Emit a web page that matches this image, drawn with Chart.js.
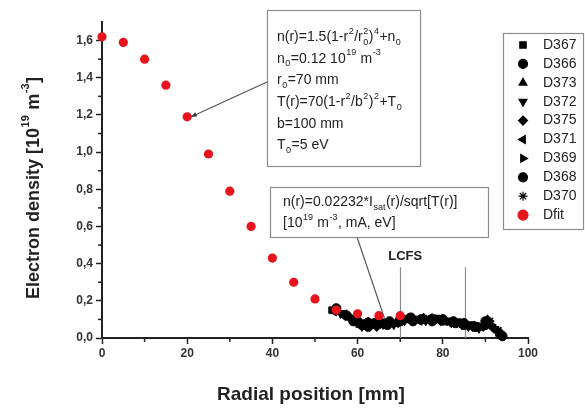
<!DOCTYPE html>
<html>
<head>
<meta charset="utf-8">
<script src="https://cdn.jsdelivr.net/npm/chart.js@4"></script>
<style>
  html, body { margin: 0; padding: 0; background: #fff; }
  #wrap { width: 585px; height: 409px; }
</style>
</head>
<body>
<div id="wrap"><canvas id="densityChart" width="585" height="409"></canvas></div>
<script>
// fitted profile (red)
const dfitR = [0, 5, 10, 15, 20, 25, 30, 35, 40, 45, 50, 55, 60, 65, 70];
const dfitN = [1.62, 1.59, 1.50, 1.36, 1.19, 0.99, 0.79, 0.60, 0.43, 0.30, 0.21, 0.15, 0.13, 0.12, 0.12];

// probe shots (black)
const d367R = [54, 56.5, 59, 61.5, 64, 66.5, 69, 71.5, 74, 76.5, 79, 81.5, 84, 86.5, 89];
const d367N = [0.15, 0.13, 0.10, 0.08, 0.07, 0.08, 0.08, 0.10, 0.10, 0.10, 0.10, 0.09, 0.08, 0.07, 0.06];
const d366R = [55, 57.5, 60, 62.5, 65, 67.5, 70, 72.5, 75, 77.5, 80, 82.5, 85, 87.5, 90];
const d366N = [0.16, 0.12, 0.09, 0.06, 0.08, 0.09, 0.09, 0.11, 0.10, 0.09, 0.10, 0.09, 0.07, 0.06, 0.09];
const d373R = [55.5, 58, 60.5, 63, 65.5, 68, 70.5, 73, 75.5, 78, 80.5, 83, 85.5, 88, 90.5];
const d373N = [0.14, 0.11, 0.07, 0.07, 0.07, 0.08, 0.10, 0.09, 0.11, 0.10, 0.09, 0.08, 0.07, 0.06, 0.10];
const d372R = [56, 58.5, 61, 63.5, 66, 68.5, 71, 73.5, 76, 78.5, 81, 83.5, 86, 88.5, 91];
const d372N = [0.13, 0.10, 0.06, 0.08, 0.09, 0.07, 0.09, 0.10, 0.09, 0.11, 0.09, 0.09, 0.06, 0.05, 0.08];
const d375R = [57, 59.5, 62, 64.5, 67, 69.5, 72, 74.5, 77, 79.5, 82, 84.5, 87, 89.5, 92];
const d375N = [0.12, 0.09, 0.08, 0.06, 0.08, 0.08, 0.11, 0.10, 0.10, 0.09, 0.08, 0.07, 0.06, 0.06, 0.05];
const d371R = [54.5, 57, 59.5, 62, 64.5, 67, 69.5, 72, 74.5, 77, 79.5, 82, 84.5, 87, 92.5];
const d371N = [0.14, 0.13, 0.11, 0.09, 0.09, 0.07, 0.09, 0.10, 0.09, 0.11, 0.10, 0.08, 0.08, 0.07, 0.04];
const d369R = [58, 60, 63, 65, 68, 71, 73, 76, 78, 81, 83, 86, 89, 91.5, 93];
const d369N = [0.12, 0.10, 0.09, 0.07, 0.08, 0.09, 0.10, 0.10, 0.09, 0.09, 0.08, 0.07, 0.06, 0.07, 0.03];
const d368R = [59, 61, 64, 67, 70, 73, 75, 78, 80, 83, 85, 88, 90, 93.5, 94];
const d368N = [0.09, 0.07, 0.08, 0.07, 0.10, 0.09, 0.10, 0.10, 0.10, 0.08, 0.08, 0.06, 0.07, 0.02, 0.01];
const d370R = [61.5, 66, 71, 76, 80, 84, 87.5, 91, 93];
const d370N = [0.07, 0.07, 0.10, 0.10, 0.09, 0.08, 0.06, 0.09, 0.04];

const xTicks = [0, 20, 40, 60, 80, 100];
const xMinor = [10, 30, 50, 70, 90];
const yTicks = [0, 0.2, 0.4, 0.6, 0.8, 1.0, 1.2, 1.4, 1.6];
const yMinor = [0.1, 0.3, 0.5, 0.7, 0.9, 1.1, 1.3, 1.5];

const lcfsR = [70, 85.3];
const lcfsTop = 0.38;

const FONT = "Arial, 'Liberation Sans', sans-serif";
const INK = '#222';

const pts = (xs, ys) => xs.map((x, i) => ({ x, y: ys[i] }));

const shots = [
    { label: 'D367', r: d367R, n: d367N, style: 'rect', rot: 0 },
    { label: 'D366', r: d366R, n: d366N, style: 'circle', rot: 0 },
    { label: 'D373', r: d373R, n: d373N, style: 'triangle', rot: 0 },
    { label: 'D372', r: d372R, n: d372N, style: 'triangle', rot: 180 },
    { label: 'D375', r: d375R, n: d375N, style: 'rectRot', rot: 0 },
    { label: 'D371', r: d371R, n: d371N, style: 'triangle', rot: 270 },
    { label: 'D369', r: d369R, n: d369N, style: 'triangle', rot: 90 },
    { label: 'D368', r: d368R, n: d368N, style: 'circle', rot: 0 },
    { label: 'D370', r: d370R, n: d370N, style: 'star', rot: 0 }
];

const datasets = shots.map(s => ({
    label: s.label,
    data: pts(s.r, s.n),
    pointStyle: s.style,
    rotation: s.rot,
    pointRadius: 4.6,
    backgroundColor: '#000',
    borderColor: '#000',
    borderWidth: s.style === 'star' ? 2 : 1,
    order: 1,
    clip: false
}));
datasets.push({
    label: 'Dfit',
    data: pts(dfitR, dfitN),
    pointStyle: 'circle',
    pointRadius: 4.6,
    backgroundColor: '#e8141c',
    borderColor: '#e8141c',
    borderWidth: 0,
    order: 0,
    clip: false
});

// tiny rich text: _{sub} ^{sup}, _{a}^{b} stacked
function parseRich(s) {
    const segs = [];
    let buf = '', i = 0;
    const grab = (at) => {
        const end = s.indexOf('}', at);
        return [s.slice(at + 2, end), end + 1];
    };
    while (i < s.length) {
        const c = s[i];
        if ((c === '_' || c === '^') && s[i + 1] === '{') {
            if (buf) { segs.push({ t: buf }); buf = ''; }
            let [txt, next] = grab(i);
            const seg = c === '_' ? { sub: txt } : { sup: txt };
            if (c === '_' && s[next] === '^' && s[next + 1] === '{') {
                const [t2, n2] = grab(next);
                seg.sup = t2;
                next = n2;
            }
            segs.push(seg);
            i = next;
        } else {
            buf += c;
            i++;
        }
    }
    if (buf) segs.push({ t: buf });
    return segs;
}

function drawRich(ctx, s, x, y, size, opts = {}) {
    const weight = opts.bold ? 'bold ' : '';
    const big = weight + size + 'px ' + FONT;
    const small = weight + Math.round(size * 0.62) + 'px ' + FONT;
    const segs = parseRich(s);
    const widthOf = seg => {
        if (seg.t !== undefined) { ctx.font = big; return ctx.measureText(seg.t).width; }
        ctx.font = small;
        return Math.max(seg.sub ? ctx.measureText(seg.sub).width : 0,
                        seg.sup ? ctx.measureText(seg.sup).width : 0) + 1;
    };
    const total = segs.reduce((a, sg) => a + widthOf(sg), 0);
    let cx = opts.align === 'center' ? x - total / 2 : x;
    ctx.textBaseline = 'middle';
    ctx.textAlign = 'left';
    ctx.fillStyle = opts.color || INK;
    segs.forEach(seg => {
        const w = widthOf(seg);
        if (seg.t !== undefined) {
            ctx.font = big;
            ctx.fillText(seg.t, cx, y);
        } else {
            ctx.font = small;
            if (seg.sup) ctx.fillText(seg.sup, cx + 0.5, y - size * 0.42);
            if (seg.sub) ctx.fillText(seg.sub, cx + 0.5, y + size * 0.36);
        }
        cx += w;
    });
}

function drawBox(ctx, x0, y0, x1, y1) {
    ctx.save();
    ctx.fillStyle = '#fff';
    ctx.fillRect(x0, y0, x1 - x0, y1 - y0);
    ctx.strokeStyle = '#8c8c8c';
    ctx.lineWidth = 1.2;
    ctx.strokeRect(x0 + 0.5, y0 + 0.5, x1 - x0, y1 - y0);
    ctx.restore();
}

const overlay = {
    id: 'overlay',
    beforeDatasetsDraw(chart) {
        const { ctx, scales: { x, y } } = chart;
        ctx.save();
        ctx.strokeStyle = '#8a8a8a';
        ctx.lineWidth = 1.2;
        lcfsR.forEach(r => {
            const px = Math.round(x.getPixelForValue(r)) + 0.5;
            ctx.beginPath();
            ctx.moveTo(px, y.getPixelForValue(lcfsTop));
            ctx.lineTo(px, y.getPixelForValue(0));
            ctx.stroke();
        });
        ctx.fillStyle = INK;
        ctx.font = 'bold 13px ' + FONT;
        ctx.textAlign = 'center';
        ctx.textBaseline = 'middle';
        ctx.fillText('LCFS', x.getPixelForValue(lcfsR[0]) + 5, y.getPixelForValue(lcfsTop) - 11);
        ctx.restore();
    },
    afterDraw(chart) {
        const { ctx, scales: { x, y } } = chart;
        ctx.save();

        // minor ticks
        ctx.strokeStyle = INK;
        ctx.lineWidth = 1.5;
        const x0 = x.getPixelForValue(0), y0 = y.getPixelForValue(0);
        xMinor.forEach(v => {
            const px = x.getPixelForValue(v);
            ctx.beginPath(); ctx.moveTo(px, y0); ctx.lineTo(px, y0 + 4); ctx.stroke();
        });
        yMinor.forEach(v => {
            const py = y.getPixelForValue(v);
            ctx.beginPath(); ctx.moveTo(x0, py); ctx.lineTo(x0 - 4, py); ctx.stroke();
        });

        // leader lines
        ctx.strokeStyle = '#555';
        ctx.lineWidth = 1.2;
        const tx = x.getPixelForValue(dfitR[4]) + 4, ty = y.getPixelForValue(dfitN[4]);
        ctx.beginPath(); ctx.moveTo(267, 82); ctx.lineTo(tx, ty); ctx.stroke();
        const ang = Math.atan2(ty - 82, tx - 267);
        ctx.fillStyle = '#333';
        ctx.beginPath();
        ctx.moveTo(tx, ty);
        ctx.lineTo(tx - 6 * Math.cos(ang - 0.4), ty - 6 * Math.sin(ang - 0.4));
        ctx.lineTo(tx - 6 * Math.cos(ang + 0.4), ty - 6 * Math.sin(ang + 0.4));
        ctx.fill();
        ctx.beginPath();
        ctx.moveTo(357, 237);
        ctx.lineTo(x.getPixelForValue(66.4), y.getPixelForValue(0.1));
        ctx.stroke();

        // formula box
        drawBox(ctx, 267, 10, 420, 166);
        const lines1 = [
            'n(r)=1.5(1-r^{2}/r_{0}^{2})^{4}+n_{0}',
            'n_{0}=0.12 10^{19} m^{-3}',
            'r_{0}=70 mm',
            'T(r)=70(1-r^{2}/b^{2})^{2}+T_{0}',
            'b=100 mm',
            'T_{0}=5 eV'
        ];
        lines1.forEach((l, i) => drawRich(ctx, l, 277, 37 + i * 21.7, 14));

        drawBox(ctx, 270, 187, 488, 237);
        drawRich(ctx, 'n(r)=0.02232*I_{sat}(r)/sqrt[T(r)]', 283, 202, 14);
        drawRich(ctx, '[10^{19} m^{-3}, mA, eV]', 283, 223, 14);

        // legend
        drawBox(ctx, 503, 33, 583, 229);
        chart.data.datasets.forEach((ds, i) => {
            const cy = 45 + i * 18.9;
            ctx.fillStyle = ds.backgroundColor;
            ctx.strokeStyle = ds.borderColor;
            Chart.helpers.drawPoint(ctx, {
                pointStyle: ds.pointStyle,
                rotation: ds.rotation || 0,
                radius: ds.label === 'Dfit' ? 5 : 4.5,
                borderWidth: ds.pointStyle === 'star' ? 2 : 1
            }, 523, cy);
            ctx.fillStyle = INK;
            ctx.font = '14px ' + FONT;
            ctx.textAlign = 'left';
            ctx.textBaseline = 'middle';
            ctx.fillText(ds.label, 543, cy);
        });

        // axis titles
        drawRich(ctx, 'Radial position [mm]', 311, 395, 19, { bold: true, align: 'center' });
        ctx.translate(34, 188);
        ctx.rotate(-Math.PI / 2);
        drawRich(ctx, 'Electron density [10^{19} m^{-3}]', 0, 0, 18, { bold: true, align: 'center' });
        ctx.restore();
    }
};

new Chart(document.getElementById('densityChart'), {
    type: 'scatter',
    data: { datasets },
    options: {
        responsive: false,
        animation: false,
        layout: { padding: { top: 22, right: 57, left: 0, bottom: 0 } },
        plugins: { legend: { display: false }, tooltip: { enabled: false } },
        scales: {
            x: {
                min: 0, max: 100,
                afterBuildTicks: s => { s.ticks = xTicks.map(v => ({ value: v })); },
                afterFit: s => { s.height = 71; },
                border: { color: INK, width: 2 },
                grid: { drawOnChartArea: false, tickLength: 6, tickColor: INK, tickWidth: 1.5 },
                ticks: {
                    color: '#333', padding: 2,
                    font: { family: FONT, size: 12, weight: 'bold' },
                    maxRotation: 0
                }
            },
            y: {
                min: 0, max: 1.7,
                afterBuildTicks: s => { s.ticks = yTicks.map(v => ({ value: v })); },
                afterFit: s => { s.width = 102; },
                border: { color: INK, width: 2 },
                grid: { drawOnChartArea: false, tickLength: 6, tickColor: INK, tickWidth: 1.5 },
                ticks: {
                    color: '#333', padding: 3,
                    font: { family: FONT, size: 12, weight: 'bold' },
                    callback: v => v.toFixed(1).replace('.', ',')
                }
            }
        }
    },
    plugins: [overlay]
});
</script>
</body>
</html>
